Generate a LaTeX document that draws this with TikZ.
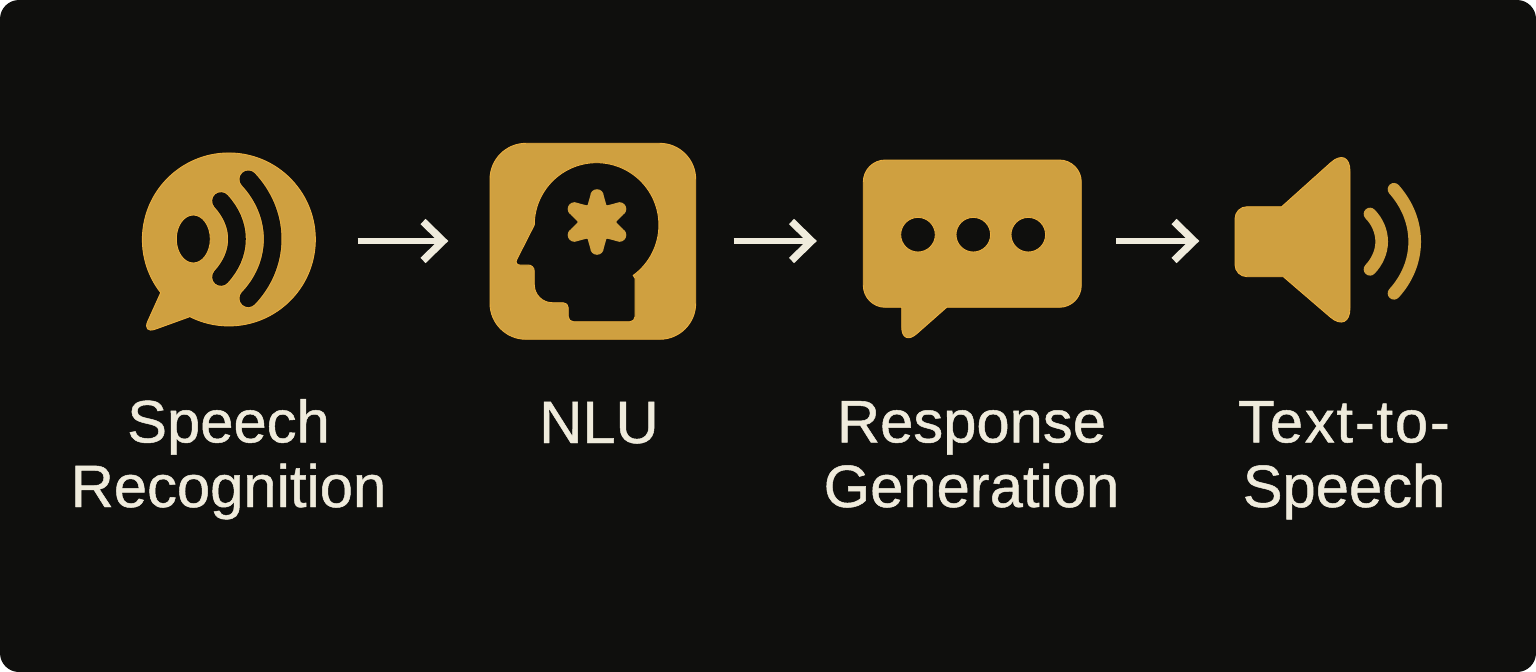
\documentclass[tikz,border=0pt]{standalone}
\usepackage{fontspec}
\setmainfont[FakeBold=0.8]{Liberation Sans}
\usetikzlibrary{arrows.meta}
\definecolor{panelbg}{HTML}{0F0F0D}
\definecolor{goldfill}{HTML}{CFA040}
\definecolor{goldedge}{HTML}{EBAE3E}
\definecolor{creamtxt}{HTML}{EFEBDC}
\tikzset{
  goldshape/.style={fill=goldfill,draw=goldedge,line width=0.25pt},
  holeshape/.style={fill=panelbg,draw=goldedge,line width=0.25pt},
  holeline/.style={draw=goldedge,double=panelbg,double distance=5pt,line width=0.25pt,line cap=round},
  waveline/.style={draw=goldfill,line width=3.6pt,line cap=round},
  iconbox/.style={inner sep=0pt,minimum height=1cm},
  flowarrow/.style={draw=creamtxt,line width=1.8pt,-{Straight Barb[length=2mm,width=3.9mm,line width=2.1pt]}},
  steplabel/.style={text=creamtxt,font=\fontsize{17}{18.4}\selectfont,align=center,anchor=base,inner sep=0pt}
}
\begin{document}
\begin{tikzpicture}[x=0.1mm,y=-0.1mm]
 \useasboundingbox (0,0) rectangle (1536,672);
 \fill[white] (0,0) rectangle (1536,672);
 \fill[panelbg,rounded corners=1.9mm] (0,0) rectangle (1536,672);

 % anchors for the arrows
 \node[iconbox,minimum width=1.73cm] (speechrec) at (228.5,241) {};
 \node[iconbox,minimum width=2.06cm] (nlu) at (593,241) {};
 \node[iconbox,minimum width=2.18cm] (respgen) at (972.5,241) {};
 \node[iconbox,minimum width=1.87cm] (tts) at (1328.5,241) {};
 \draw[flowarrow,shorten <=4.2mm,shorten >=4.1mm] (speechrec.east) -- (nlu.west);
 \draw[flowarrow,shorten <=3.7mm,shorten >=4.6mm] (nlu.east) -- (respgen.west);
 \draw[flowarrow,shorten <=3.4mm,shorten >=3.5mm] (respgen.east) -- (tts.west);

 % speech recognition
 \draw[goldshape] (160.7,292.7) arc (142:477:86.5) -- (189,317)
   [rounded corners=1.4mm] -- (142,334) [sharp corners] -- cycle;
 \draw[holeshape] (193.3,239) ellipse (17 and 24);
 \draw[holeline] (221,201) .. controls (231,212) and (237,225) .. (237,239) .. controls (237,253) and (231,266) .. (221,277);
 \draw[holeline] (248.3,179.3) .. controls (263,195) and (272.7,216) .. (272.7,239) .. controls (272.7,262) and (263,283) .. (248.3,298.3);

 % nlu
 \draw[goldshape,rounded corners=3.6mm] (490,143.3) rectangle (695.7,339.3);
 \draw[holeshape] (534.3,225) arc (180:414:62.3) -- (635,278.3)
   [rounded corners=0.5mm] -- (635,321.7) -- (568.3,321.7) -- (568.3,302.7)
   [rounded corners=1.8mm] -- (534.3,302.7) [rounded corners=0.6mm] -- (534.3,265) -- (514,265) [sharp corners] -- cycle;
 \fill[goldfill] (597,222) circle (19.5);
 \foreach \ang in {30,90,...,330} {
   \fill[goldfill,shift={(597,222)}] (\ang-30:19) -- (\ang-14.7:26.9) -- (\ang+14.7:26.9) -- (\ang+30:19) -- cycle;
   \fill[goldfill,shift={(597,222)}] (\ang:26) circle (6.8);
 }

 % response generation
 \draw[goldshape] (946.7,307.3) [rounded corners=2.2mm] -- (1081.3,307.3) -- (1081.3,160) -- (863.3,160) -- (863.3,307.3)
   [sharp corners] -- (901.7,307.3) [rounded corners=2mm] -- (901.7,347) [sharp corners] -- cycle;
 \foreach \dotx in {918,973.3,1028.3}
   \draw[holeshape] (\dotx,234.7) circle (17.3);

 % text to speech
 \draw[goldshape] (1281.7,206.7) [rounded corners=1.2mm] -- (1235,206.7) -- (1235,276.7) [sharp corners] -- (1283.3,276.7)
   [rounded corners=2.6mm] -- (1350,334) -- (1350,145.4) [sharp corners] -- cycle;
 \draw[waveline] (1370,214) .. controls (1377,221) and (1381.7,231) .. (1381.7,241.7) .. controls (1381.7,252) and (1377,262) .. (1370,269.3);
 \draw[waveline] (1394,189.3) .. controls (1407,204) and (1414.7,222) .. (1414.7,241.7) .. controls (1414.7,261) and (1407,279) .. (1394,293.3);

 % labels
 \node[steplabel] (speechtxt) at (228.5,507) {Speech\\Recognition};
 \node[steplabel] (nlutxt) at (599,443) {NLU};
 \node[steplabel] (resptxt) at (971.5,507) {Response\\Generation};
 \node[steplabel] (ttstxt) at (1344,507) {{\addfontfeature{LetterSpace=3}Text-to-}\\Speech};
\end{tikzpicture}
\end{document}
